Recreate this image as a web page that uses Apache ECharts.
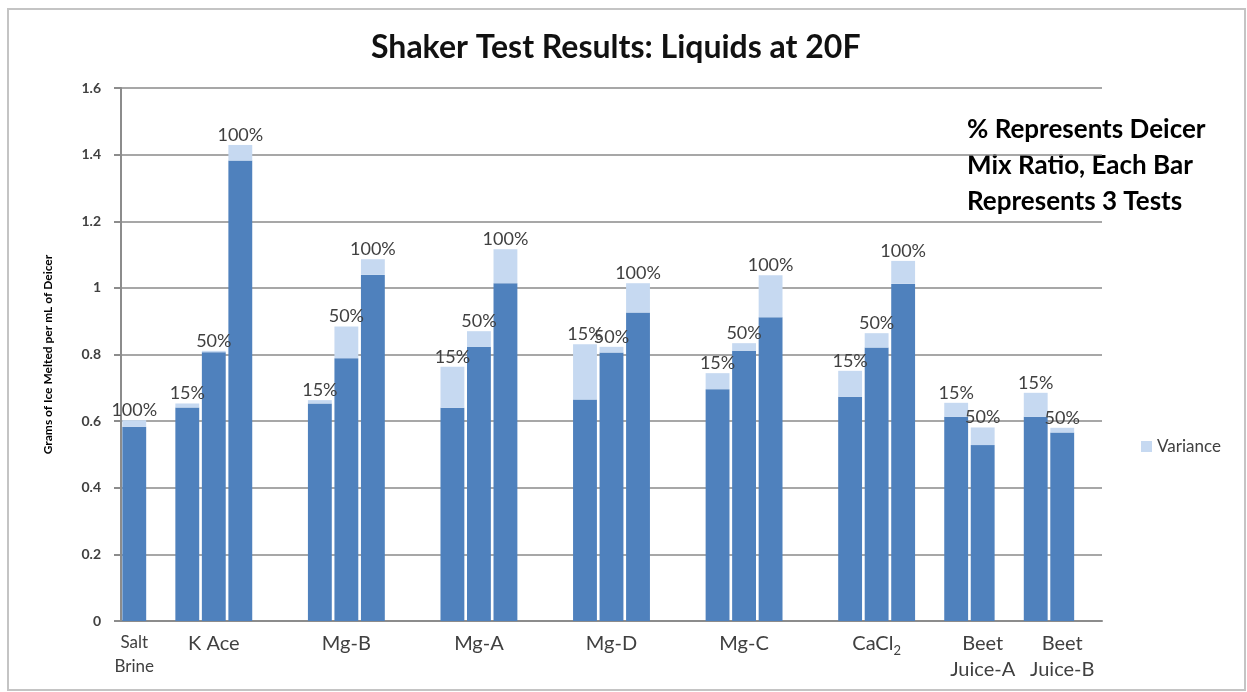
<!DOCTYPE html>
<html>
<head>
<meta charset="utf-8">
<title>Shaker Test Results</title>
<script src="https://cdn.jsdelivr.net/npm/echarts@6/dist/echarts.min.js"></script>
<style>
  html, body { margin: 0; padding: 0; background: #fff; }
  #main { width: 1247px; height: 692px; }
</style>
</head>
<body>
<div id="main"></div>
<script>
// deicer groups, one label per group on the x axis
const groups = ['Salt\nBrine', 'K Ace', 'Mg-B', 'Mg-A', 'Mg-D', 'Mg-C', 'CaCl2', 'Beet\nJuice-A', 'Beet\nJuice-B'];
// mix ratio shown above each bar
const mixRatios = [
  ['100%'],
  ['15%', '50%', '100%'],
  ['15%', '50%', '100%'],
  ['15%', '50%', '100%'],
  ['15%', '50%', '100%'],
  ['15%', '50%', '100%'],
  ['15%', '50%', '100%'],
  ['15%', '50%'],
  ['15%', '50%']
];
// grams of ice melted per mL (dark part of the bar)
const meltBase = [
  [0.583],
  [0.641, 0.807, 1.382],
  [0.653, 0.789, 1.039],
  [0.640, 0.823, 1.014],
  [0.665, 0.806, 0.926],
  [0.696, 0.811, 0.912],
  [0.673, 0.821, 1.012],
  [0.613, 0.528],
  [0.613, 0.566]
];
// variance over the 3 tests (light part on top)
const meltVariance = [
  [0.020],
  [0.012, 0.004, 0.047],
  [0.010, 0.095, 0.047],
  [0.123, 0.047, 0.102],
  [0.166, 0.017, 0.088],
  [0.048, 0.023, 0.126],
  [0.078, 0.043, 0.069],
  [0.042, 0.053],
  [0.072, 0.014]
];

// empty slots before each group, and which bar of the group carries the axis label
const gapBefore = [0, 1, 2, 2, 2, 2, 2, 1, 1];
const labelAt = [0, 1, 1, 1, 1, 1, 1, 1, 1];

const slotNames = [];
const slotLabels = [];
const baseData = [];
const varData = [];
const ratioData = [];

function pushBlank() {
  slotNames.push('s' + slotNames.length);
  slotLabels.push('');
  baseData.push('-');
  varData.push('-');
  ratioData.push('');
}

groups.forEach((g, gi) => {
  for (let k = 0; k < gapBefore[gi]; k++) pushBlank();
  meltBase[gi].forEach((v, bi) => {
    slotNames.push('s' + slotNames.length);
    slotLabels.push(bi === labelAt[gi] ? g : '');
    baseData.push(v);
    varData.push(meltVariance[gi][bi]);
    ratioData.push(mixRatios[gi][bi]);
  });
});
pushBlank();

const FONT = 'Lato, "Open Sans", sans-serif';

const myChart = echarts.init(document.getElementById('main'));

const option = {
  backgroundColor: '#fff',
  animation: false,
  textStyle: { fontFamily: FONT },
  title: {
    text: 'Shaker Test Results: Liquids at 20F',
    left: 366,
    top: 27,
    textStyle: { fontFamily: FONT, fontSize: 32, fontWeight: 'bold', color: '#111' }
  },
  legend: {
    data: ['Variance'],
    left: 1136,
    top: 433,
    itemWidth: 11,
    itemHeight: 11,
    icon: 'rect',
    textStyle: { fontFamily: FONT, fontSize: 17, color: '#404040' }
  },
  grid: { left: 121, right: 145, top: 88, bottom: 71 },
  xAxis: {
    type: 'category',
    data: slotNames,
    axisTick: { show: false },
    axisLine: { lineStyle: { color: '#8c8c8c', width: 2 } },
    axisLabel: {
      interval: 0,
      margin: 10,
      color: '#404040',
      fontSize: 20,
      fontFamily: FONT,
      lineHeight: 26,
      formatter: (value, index) => {
        const t = slotLabels[index];
        if (t === 'CaCl2') return '{n|CaCl}{sub|2}';
        if (t === 'Salt\nBrine') return '{sm|Salt}\n{sm|Brine}';
        return t;
      },
      rich: {
        n: { fontSize: 20, fontFamily: FONT, color: '#404040', lineHeight: 26 },
        sub: { fontSize: 13, fontFamily: FONT, color: '#404040', lineHeight: 14, verticalAlign: 'bottom' },
        sm: { fontSize: 17, fontFamily: FONT, color: '#404040', lineHeight: 24 }
      }
    }
  },
  yAxis: {
    type: 'value',
    min: 0,
    max: 1.6,
    interval: 0.2,
    name: 'Grams of Ice Melted per mL of Deicer',
    nameLocation: 'middle',
    nameGap: 67,
    nameTextStyle: { fontFamily: FONT, fontSize: 12, fontWeight: 'bold', color: '#000' },
    axisLine: { show: true, lineStyle: { color: '#8c8c8c', width: 2 } },
    axisTick: { show: true, length: 7, lineStyle: { color: '#8c8c8c', width: 2 } },
    axisLabel: {
      margin: 20,
      color: '#404040',
      fontSize: 14,
      fontWeight: 'bold',
      fontFamily: FONT,
      formatter: v => String(Math.round(v * 10) / 10)
    },
    splitLine: { lineStyle: { color: '#8a8a8a', width: 1.5 } }
  },
  series: [
    {
      name: 'Melt',
      type: 'bar',
      stack: 'total',
      barWidth: '90%',
      itemStyle: { color: '#4F81BD' },
      data: baseData
    },
    {
      name: 'Variance',
      type: 'bar',
      stack: 'total',
      barWidth: '90%',
      itemStyle: { color: '#C6D9F1' },
      label: {
        show: true,
        position: 'top',
        distance: 1,
        color: '#404040',
        fontSize: 18,
        fontFamily: FONT,
        formatter: p => ratioData[p.dataIndex]
      },
      data: varData
    }
  ],
  graphic: [
    {
      type: 'rect',
      shape: { x: 8, y: 9, width: 1237, height: 681 },
      style: { fill: 'none', stroke: '#c4c4c4', lineWidth: 2 },
      silent: true
    },
    {
      type: 'text',
      left: 967,
      top: 112,
      style: {
        text: '% Represents Deicer\nMix Ratio, Each Bar\nRepresents 3 Tests',
        font: 'bold 26px Lato, "Open Sans", sans-serif',
        lineHeight: 36,
        fill: '#000'
      }
    }
  ]
};

myChart.setOption(option);
window.onresize = () => myChart.resize();
</script>
</body>
</html>
